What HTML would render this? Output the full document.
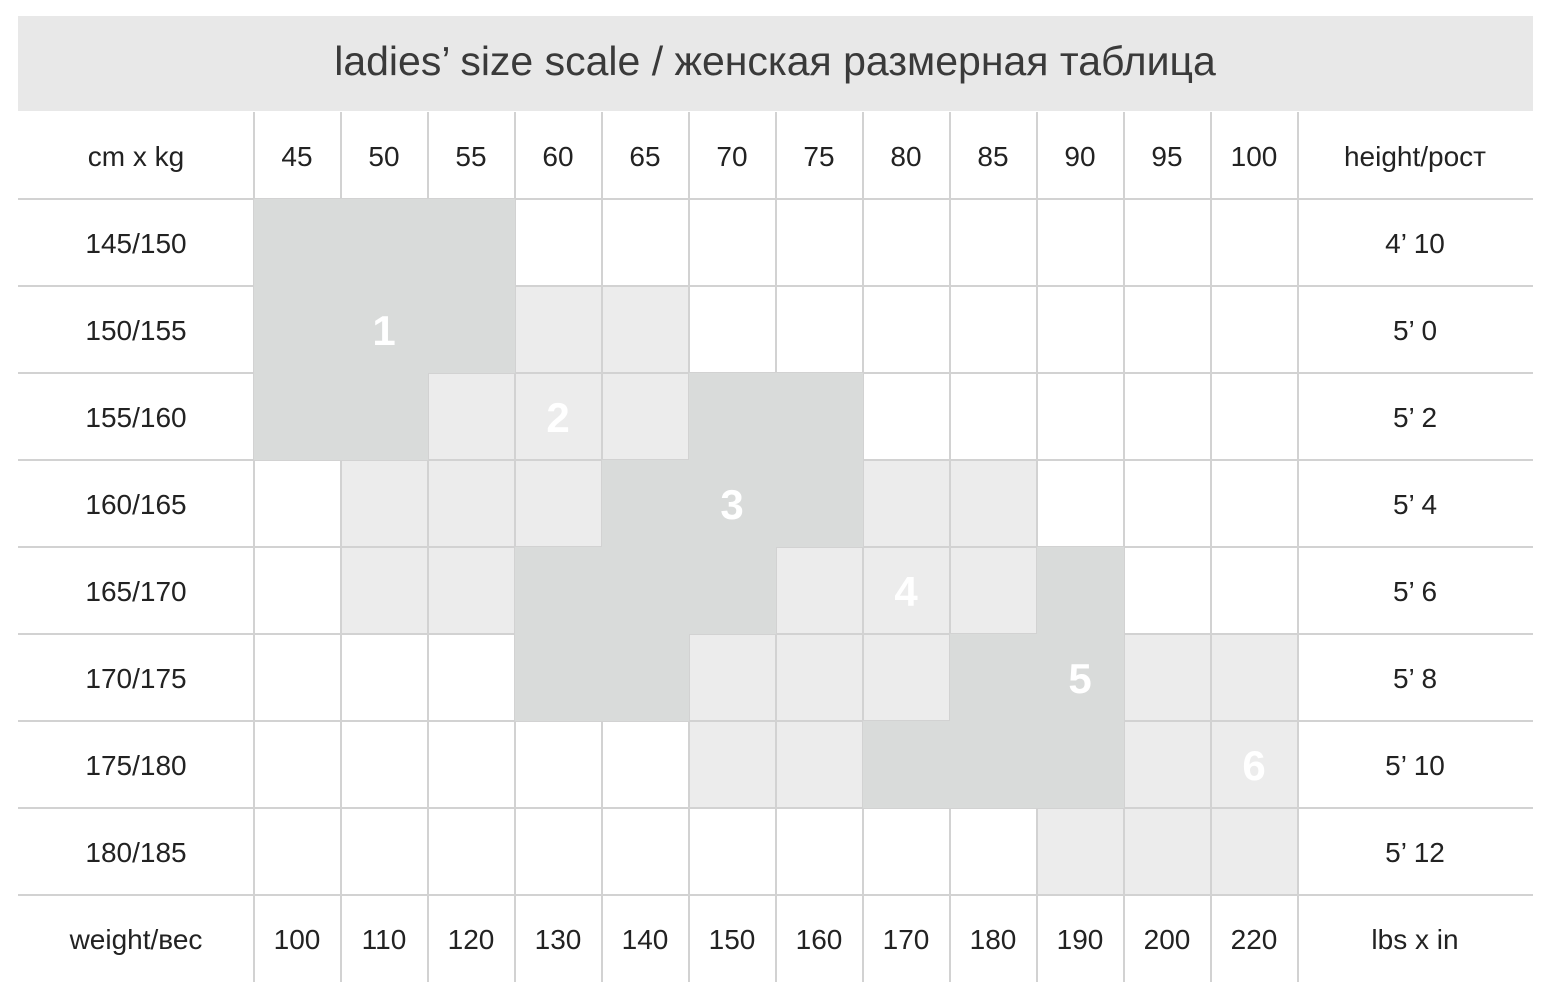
<!DOCTYPE html>
<html><head><meta charset="utf-8"><style>
html,body{margin:0;padding:0;background:#fff;}
</style></head><body>
<svg width="1550" height="994" xmlns="http://www.w3.org/2000/svg" font-family="Liberation Sans, DejaVu Sans, sans-serif">
<rect x="0" y="0" width="1550" height="994" fill="#fff"/>
<rect x="18" y="16" width="1515" height="95" fill="#e8e8e8"/>
<text x="775" y="75" font-size="41" fill="#3a3a3a" text-anchor="middle">ladies’ size scale / женская размерная таблица</text>
<g fill="#ececec">
<rect x="515" y="286" width="174" height="87"/>
<rect x="428" y="373" width="261" height="87"/>
<rect x="341" y="460" width="261" height="87"/>
<rect x="863" y="460" width="174" height="87"/>
<rect x="341" y="547" width="174" height="87"/>
<rect x="776" y="547" width="261" height="87"/>
<rect x="689" y="634" width="261" height="87"/>
<rect x="1124" y="634" width="174" height="87"/>
<rect x="689" y="721" width="174" height="87"/>
<rect x="1124" y="721" width="174" height="87"/>
<rect x="1037" y="808" width="261" height="87"/>
</g>
<g stroke="#d2d2d2" stroke-width="2">
<line x1="18" y1="199" x2="1533" y2="199"/><line x1="18" y1="286" x2="1533" y2="286"/><line x1="18" y1="373" x2="1533" y2="373"/><line x1="18" y1="460" x2="1533" y2="460"/><line x1="18" y1="547" x2="1533" y2="547"/><line x1="18" y1="634" x2="1533" y2="634"/><line x1="18" y1="721" x2="1533" y2="721"/><line x1="18" y1="808" x2="1533" y2="808"/><line x1="18" y1="895" x2="1533" y2="895"/>
<line x1="254" y1="112" x2="254" y2="982"/><line x1="341" y1="112" x2="341" y2="982"/><line x1="428" y1="112" x2="428" y2="982"/><line x1="515" y1="112" x2="515" y2="982"/><line x1="602" y1="112" x2="602" y2="982"/><line x1="689" y1="112" x2="689" y2="982"/><line x1="776" y1="112" x2="776" y2="982"/><line x1="863" y1="112" x2="863" y2="982"/><line x1="950" y1="112" x2="950" y2="982"/><line x1="1037" y1="112" x2="1037" y2="982"/><line x1="1124" y1="112" x2="1124" y2="982"/><line x1="1211" y1="112" x2="1211" y2="982"/><line x1="1298" y1="112" x2="1298" y2="982"/>
</g>
<g fill="#d9dbda">
<rect x="254" y="199" width="261" height="174"/>
<rect x="254" y="373" width="174" height="87"/>
<rect x="689" y="373" width="174" height="87"/>
<rect x="602" y="460" width="261" height="87"/>
<rect x="515" y="547" width="261" height="87"/>
<rect x="1037" y="547" width="87" height="87"/>
<rect x="515" y="634" width="174" height="87"/>
<rect x="950" y="634" width="174" height="87"/>
<rect x="863" y="721" width="261" height="87"/>
</g>
<g fill="#fff" font-size="42" font-weight="bold" text-anchor="middle">
<text x="384" y="345">1</text><text x="558" y="432">2</text><text x="732" y="519">3</text><text x="906" y="606">4</text><text x="1080" y="693">5</text><text x="1254" y="780">6</text>
</g>
<g fill="#222" font-size="28" text-anchor="middle">
<text x="136" y="166">cm x kg</text>
<text x="297" y="166">45</text><text x="384" y="166">50</text><text x="471" y="166">55</text><text x="558" y="166">60</text><text x="645" y="166">65</text><text x="732" y="166">70</text><text x="819" y="166">75</text><text x="906" y="166">80</text><text x="993" y="166">85</text><text x="1080" y="166">90</text><text x="1167" y="166">95</text><text x="1254" y="166">100</text>
<text x="1415" y="166">height/рост</text>
<text x="136" y="253">145/150</text><text x="136" y="340">150/155</text><text x="136" y="427">155/160</text><text x="136" y="514">160/165</text><text x="136" y="601">165/170</text><text x="136" y="688">170/175</text><text x="136" y="775">175/180</text><text x="136" y="862">180/185</text>
<text x="1415" y="253">4’ 10</text><text x="1415" y="340">5’ 0</text><text x="1415" y="427">5’ 2</text><text x="1415" y="514">5’ 4</text><text x="1415" y="601">5’ 6</text><text x="1415" y="688">5’ 8</text><text x="1415" y="775">5’ 10</text><text x="1415" y="862">5’ 12</text>
<text x="136" y="949">weight/вес</text>
<text x="297" y="949">100</text><text x="384" y="949">110</text><text x="471" y="949">120</text><text x="558" y="949">130</text><text x="645" y="949">140</text><text x="732" y="949">150</text><text x="819" y="949">160</text><text x="906" y="949">170</text><text x="993" y="949">180</text><text x="1080" y="949">190</text><text x="1167" y="949">200</text><text x="1254" y="949">220</text>
<text x="1415" y="949">lbs x in</text>
</g>
</svg>
</body></html>
